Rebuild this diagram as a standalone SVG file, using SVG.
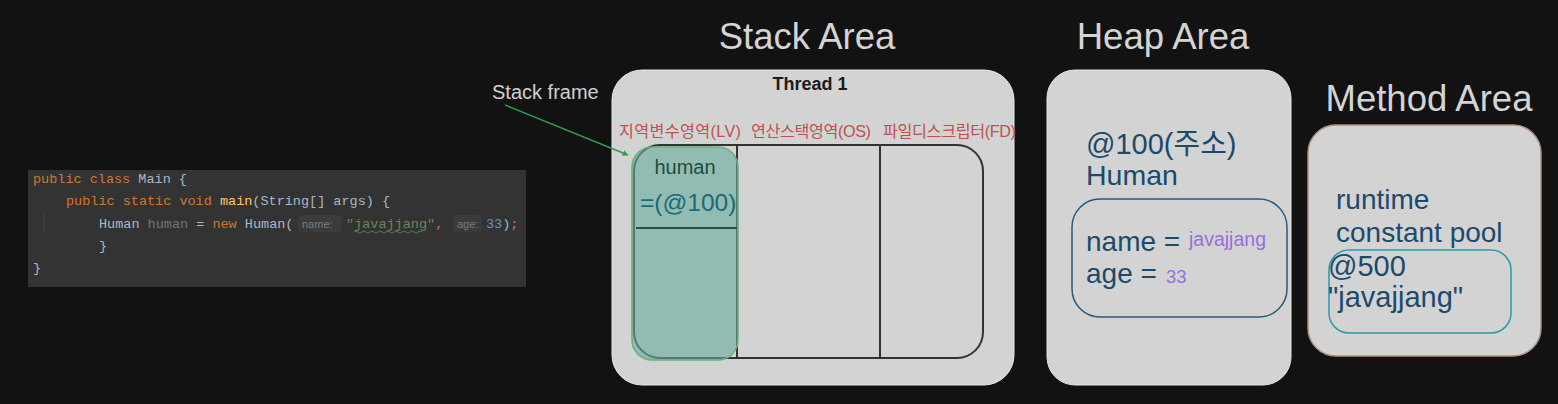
<svg xmlns="http://www.w3.org/2000/svg" width="1558" height="404" viewBox="0 0 1558 404">
<defs>
<style>
.t{font-family:"Liberation Sans","Noto Sans CJK KR",Arial,sans-serif}
.title{font-size:36.5px;fill:#d4d4d4;text-anchor:middle}
.area{fill:#d3d3d3;stroke:#e6e6e6;stroke-width:1}
.red{font-size:16.2px;fill:#c0504d}
.blue{fill:#1b4a6b}
.purple{fill:#9370db}
.code{font-family:"Liberation Mono","DejaVu Sans Mono",monospace;font-size:13.5px;white-space:pre}
.kw{fill:#cc7832}
.pl{fill:#a9b7c6}
.fn{fill:#ffc66d}
.gr{fill:#72737a}
.st{fill:#6a8759}
.nu{fill:#6897bb}
.hint{font-family:"Liberation Sans",sans-serif;font-size:11px;fill:#7a7a7a}
</style>
<marker id="arr" viewBox="0 0 10 10" refX="9" refY="5" markerWidth="6" markerHeight="6" orient="auto" markerUnits="userSpaceOnUse">
<path d="M0,0 L10,5 L0,10 z" fill="#2e9e4a"/>
</marker>
</defs>
<rect width="1558" height="404" fill="#121212"/>

<g id="code">
<rect x="28" y="170" width="498" height="117" fill="#333333"/>
<line x1="44" y1="213" x2="44" y2="232" stroke="#444" stroke-width="1"/>
<text class="code" x="33" y="183"><tspan class="kw">public class </tspan><tspan class="pl">Main {</tspan></text>
<text class="code" x="66" y="205"><tspan class="kw">public static void </tspan><tspan class="fn">main</tspan><tspan class="pl">(String[] args) {</tspan></text>
<text class="code" x="99" y="228"><tspan class="pl">Human </tspan><tspan class="gr">human </tspan><tspan class="pl">= </tspan><tspan class="kw">new </tspan><tspan class="pl">Human(</tspan></text>
<rect x="298" y="215" width="44" height="17" rx="4" fill="#3b3b3b"/>
<text class="hint" x="302" y="228">name:</text>
<text class="code" x="346" y="228"><tspan class="st">"javajjang"</tspan><tspan class="kw">, </tspan></text>
<path d="M354,232 q2,-2 4,0 t4,0 t4,0 t4,0 t4,0 t4,0 t4,0 t4,0 t4,0 t4,0 t4,0 t4,0 t4,0 t4,0 t4,0 t4,0 t4,0" fill="none" stroke="#6a8759" stroke-width="0.8"/>
<rect x="453" y="215" width="29" height="17" rx="4" fill="#3b3b3b"/>
<text class="hint" x="457" y="228">age:</text>
<text class="code" x="486" y="228"><tspan class="nu">33</tspan><tspan class="pl">)</tspan><tspan class="kw">;</tspan></text>
<text class="code" x="99" y="250"><tspan class="pl">}</tspan></text>
<text class="code" x="33" y="272"><tspan class="pl">}</tspan></text>
</g>

<g id="titles">
<text class="t title" x="807" y="49">Stack Area</text>
<text class="t title" x="1163" y="49">Heap Area</text>
<text class="t title" x="1429" y="111">Method Area</text>
</g>

<g id="stack-area">
<rect class="area" x="612" y="70" width="402" height="315" rx="30"/>
<text class="t" x="810" y="90" font-size="18" font-weight="bold" fill="#1a1a1a" text-anchor="middle">Thread 1</text>
<text class="t red" x="619" y="137" textLength="122">지역변수영역(LV)</text>
<text class="t red" x="751" y="137" textLength="120">연산스택영역(OS)</text>
<text class="t red" x="883" y="137" textLength="133">파일디스크립터(FD)</text>
<rect x="634" y="145" width="349" height="213" rx="26" fill="none" stroke="#333" stroke-width="2"/>
<line x1="737" y1="145" x2="737" y2="358" stroke="#333" stroke-width="2"/>
<line x1="880" y1="145" x2="880" y2="358" stroke="#333" stroke-width="2"/>
</g>

<g id="local-var">
<rect x="632" y="147" width="106" height="213" rx="20" fill="#67ab9f" fill-opacity="0.6" stroke="#6cb07a" stroke-width="1.5"/>
<text class="t" x="685" y="174" font-size="20" fill="#1e4d3c" text-anchor="middle">human</text>
<text class="t" x="640" y="211" font-size="24.5" fill="#1a6a78">=(@100)</text>
<line x1="636" y1="228" x2="737" y2="228" stroke="#2d4d44" stroke-width="2"/>
</g>

<g id="heap-area">
<rect class="area" x="1047" y="70" width="244" height="315" rx="28"/>
<text class="t blue" x="1086" y="154" font-size="29">@100(주소)</text>
<text class="t blue" x="1086" y="185" font-size="28.5">Human</text>
<rect x="1072" y="199" width="215" height="118" rx="28" fill="none" stroke="#2a5a7a" stroke-width="1.5"/>
<text class="t blue" x="1086" y="251" font-size="28">name =</text>
<text class="t purple" x="1189" y="246" font-size="19.5">javajjang</text>
<text class="t blue" x="1086" y="283" font-size="28">age =</text>
<text class="t purple" x="1166" y="283" font-size="18.5">33</text>
</g>

<g id="method-area">
<rect x="1308" y="125" width="233" height="231" rx="28" fill="#d3d3d3" stroke="#b09080" stroke-width="1.5"/>
<text class="t blue" x="1336" y="209" font-size="28">runtime</text>
<text class="t blue" x="1336" y="242" font-size="28">constant pool</text>
<rect x="1329" y="250" width="182" height="83" rx="20" fill="none" stroke="#2a9aa8" stroke-width="1.5"/>
<text class="t blue" x="1328" y="276" font-size="29">@500</text>
<text class="t blue" x="1328" y="307" font-size="29">"javajjang"</text>
</g>

<g id="stack-frame-label">
<text class="t" x="492" y="99" font-size="20" fill="#d0d0d0">Stack frame</text>
</g>

<g id="connectors">
<line x1="505" y1="105" x2="628" y2="155" stroke="#2e9e4a" stroke-width="1.5" marker-end="url(#arr)"/>
</g>
</svg>
